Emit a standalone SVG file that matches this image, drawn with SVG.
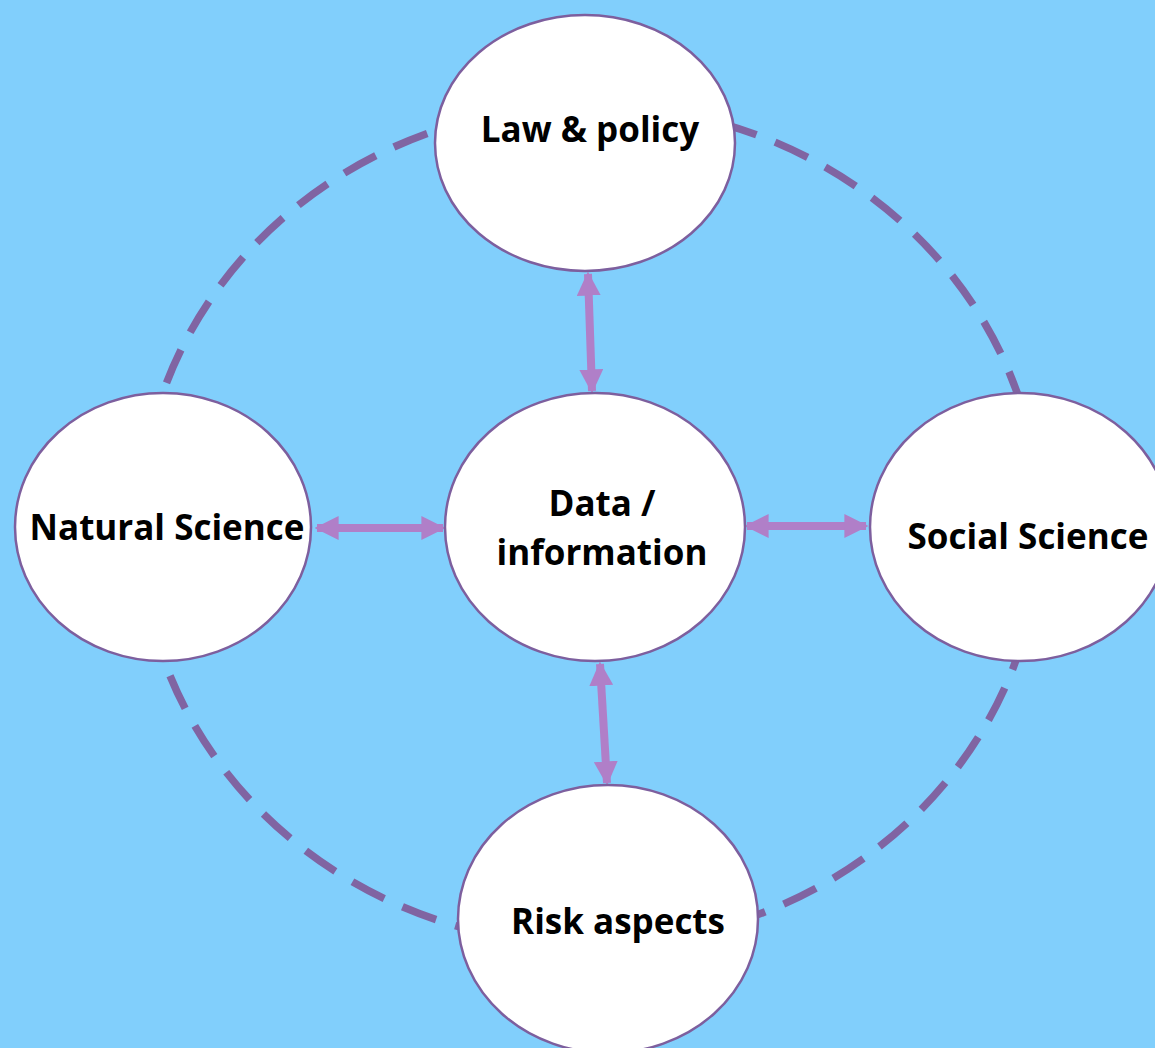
<svg xmlns="http://www.w3.org/2000/svg" width="1155" height="1048" viewBox="0 0 1155 1048">
<style>
.node{fill:#ffffff;stroke:#7d5f9e;stroke-width:2.5}
.lbl{font-family:"Open Sans","Liberation Sans",sans-serif;font-weight:bold;font-size:35px;fill:#000;text-anchor:middle}
.arr{stroke:#b07fc8;stroke-width:8;fill:none;marker-start:url(#ah);marker-end:url(#ah)}
.ring{fill:none;stroke:#8064a2;stroke-width:7.5;stroke-dasharray:36 20}
</style>
<defs>
<marker id="ah" viewBox="0 0 10 10" refX="9" refY="5" markerWidth="3" markerHeight="3" orient="auto-start-reverse" markerUnits="strokeWidth">
<path d="M0,0 L10,5 L0,10 Z" fill="#b07fc8"/>
</marker>
</defs>
<rect width="1155" height="1048" fill="#81cffc"/>
<g id="connectors">
<ellipse class="ring" cx="590" cy="525" rx="450" ry="420"/>
<line class="arr" x1="588" y1="274" x2="592" y2="391"/>
<line class="arr" x1="317" y1="528" x2="443" y2="528"/>
<line class="arr" x1="747" y1="526" x2="866" y2="526"/>
<line class="arr" x1="600" y1="664" x2="607" y2="783"/>
</g>
<g id="law">
<ellipse class="node" cx="585" cy="143" rx="150" ry="128"/>
<text class="lbl" x="590" y="142">Law &amp; policy</text>
</g>
<g id="natural">
<ellipse class="node" cx="163" cy="527" rx="148" ry="134"/>
<text class="lbl" x="167" y="540">Natural Science</text>
</g>
<g id="data">
<ellipse class="node" cx="595" cy="527" rx="150" ry="134"/>
<text class="lbl" x="602" y="516">Data /</text>
<text class="lbl" x="602" y="565">information</text>
</g>
<g id="social">
<ellipse class="node" cx="1020" cy="527" rx="150" ry="134"/>
<text class="lbl" x="1028" y="549">Social Science</text>
</g>
<g id="risk">
<ellipse class="node" cx="608" cy="919" rx="150" ry="134"/>
<text class="lbl" x="618" y="934">Risk aspects</text>
</g>
</svg>
